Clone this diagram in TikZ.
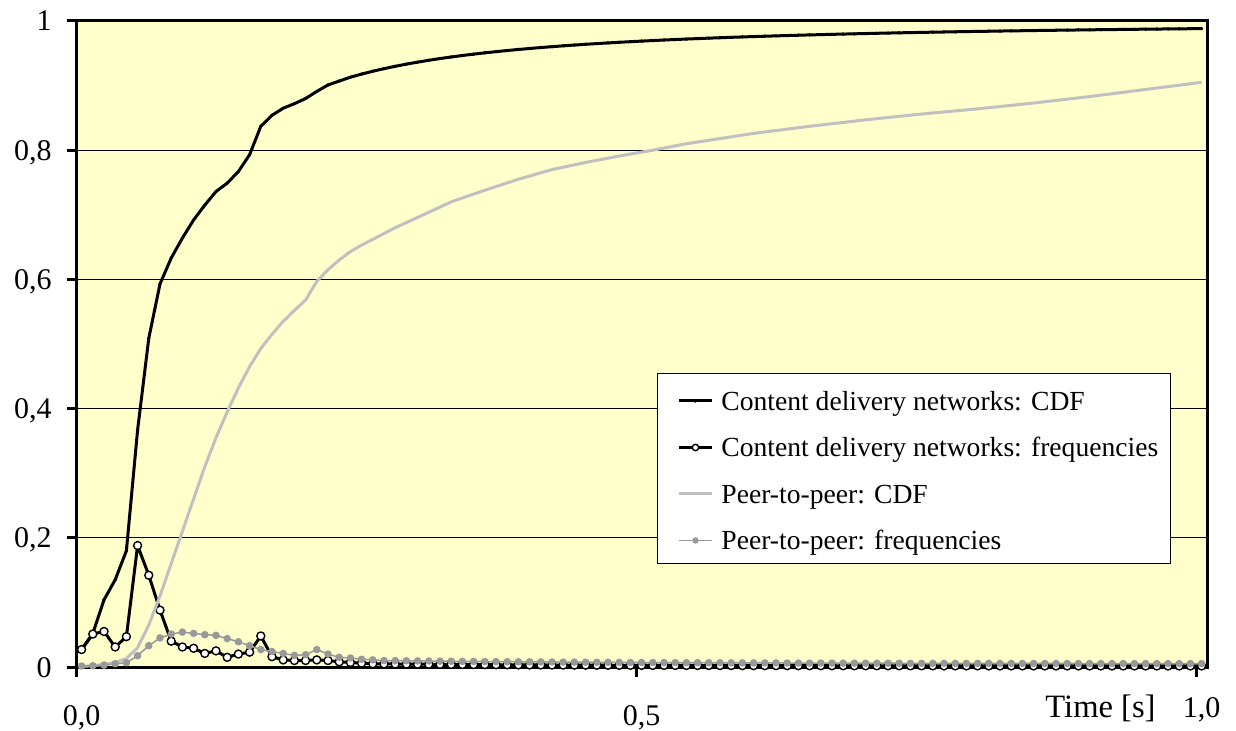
\documentclass[tikz,border=0pt]{standalone}
\usepackage{fontspec}
\setmainfont{Liberation Serif}
\definecolor{plotbg}{HTML}{FFFFCC}
\definecolor{ptpcdf}{HTML}{C0C0C0}
\definecolor{ptpfreq}{HTML}{999999}
\begin{document}
\begin{tikzpicture}[x=0.5pt,y=-0.5pt,
  ticklabel/.style={font=\fontsize{15}{18}\selectfont},
  legendtext/.style={font=\fontsize{13.8}{16}\selectfont, anchor=base west, inner sep=0pt},
  cdnline/.style={black, line width=1.5pt, line join=round},
  cdnmarks/.style={mark=*, mark size=0.7pt, mark options={fill=black, draw=black, line width=0.3pt}},
  cdnfreq/.style={black, line width=1.5pt, line join=round, mark=*, mark size=2pt,
                  mark options={fill=white, draw=black, line width=0.7pt}},
  ptpline/.style={ptpcdf, line width=1.5pt, line join=round},
  ptpfreqline/.style={ptpfreq, line width=0.75pt, line join=round, mark=*, mark size=1.5pt,
                  mark options={fill=ptpfreq, draw=ptpfreq}},
  frame/.style={black, line width=1.5pt},
  grid line/.style={black, line width=0.5pt}]
\useasboundingbox (0,0) rectangle (1236,731);

% plot area and horizontal grid
\fill[plotbg] (76,21) rectangle (1207,667);
\foreach \v in {0.2,0.4,0.6,0.8}
  \draw[grid line] (76,{667-646*\v}) -- (1207,{667-646*\v});
\draw[frame] (76,21) rectangle (1207,667);

% value axis ticks and labels
\foreach \v/\t in {0/0, 0.2/{0,2}, 0.4/{0,4}, 0.6/{0,6}, 0.8/{0,8}, 1/1} {
  \draw[frame] (67,{667-646*\v}) -- (76,{667-646*\v});
  \node[ticklabel, anchor=base east, inner sep=0pt] at (52,{677-646*\v}) {\t};
}

% time axis ticks and labels
\foreach \px in {76,636,1196}
  \draw[frame] (\px,667) -- (\px,677);
\node[ticklabel, anchor=base, inner sep=0pt] (t0) at (81.6,725) {0,0};
\node[ticklabel, anchor=base, inner sep=0pt] (t5) at (641.6,725) {0,5};
\node[ticklabel, anchor=base, inner sep=0pt] (t10) at (1201.6,717) {1,0};
\node[font=\fontsize{16.3}{19}\selectfont, anchor=base west, inner sep=0pt] (xtitle) at (1045,717) {Time [s]};

% data series: one category every 0.01 s
\begin{scope}[shift={(81.6,667)}, x=5.6pt, y=323pt]
  % content delivery networks: CDF
  \draw[cdnline, cdnmarks] plot coordinates {
    (0,0.027) (1,0.052) (2,0.104) (3,0.135) (4,0.180) (5,0.367) (6,0.509) (7,0.593)
    (8,0.633) (9,0.664) (10,0.692) (11,0.715) (12,0.736) (13,0.749) (14,0.767)
    (15,0.793) (16,0.837) (17,0.854) (18,0.865) (19,0.872) (20,0.880) (21,0.891)
    (22,0.901) (23,0.907)}
    -- plot[domain=24:100, samples=77] (\x,{1-0.087*pow(\x/24,-1.4)});
  % content delivery networks: frequencies
  \draw[cdnfreq] plot coordinates {
    (0,0.027) (1,0.051) (2,0.055) (3,0.031) (4,0.047) (5,0.188) (6,0.142) (7,0.088)
    (8,0.040) (9,0.031) (10,0.029) (11,0.021) (12,0.025) (13,0.015) (14,0.020)
    (15,0.023) (16,0.048) (17,0.016) (18,0.011) (19,0.010) (20,0.010) (21,0.011)
    (22,0.010) (23,0.008) (24,0.007) (25,0.006)}
    -- plot[domain=26:100, samples=75] (\x,{0.0015+0.0035*exp(-(\x-26)/20)});
  % peer-to-peer: CDF
  \draw[ptpline] plot coordinates {
    (0,0.001) (1,0.002) (2,0.004) (3,0.007) (4,0.013) (5,0.030) (6,0.065) (7,0.110)
    (8,0.160) (9,0.210) (10,0.260) (11,0.310) (12,0.355) (13,0.395) (14,0.432)
    (15,0.465) (16,0.493) (17,0.515) (18,0.535) (19,0.552) (20,0.568) (21,0.597)
    (22,0.615) (23,0.630) (24,0.643) (25,0.653) (26,0.662) (27,0.671) (28,0.680)
    (30,0.696) (33,0.720) (36,0.738) (39,0.755) (42,0.770) (45,0.781) (48,0.791)
    (51,0.800) (54,0.810) (57,0.818) (60,0.826) (65,0.837) (70,0.847) (75,0.856)
    (80,0.864) (85,0.873) (90,0.883) (95,0.894) (100,0.905)};
  % peer-to-peer: frequencies
  \draw[ptpfreqline] plot coordinates {
    (0,0.0015) (1,0.002) (2,0.003) (3,0.005) (4,0.0065) (5,0.0175) (6,0.033) (7,0.045)
    (8,0.051) (9,0.054) (10,0.052) (11,0.050) (12,0.049) (13,0.044) (14,0.039)
    (15,0.033) (16,0.027) (17,0.024) (18,0.021) (19,0.018) (20,0.019) (21,0.027)
    (22,0.020) (23,0.015) (24,0.014) (25,0.012) (26,0.011) (27,0.010)}
    -- plot[domain=28:100, samples=73] (\x,{0.005+0.005*exp(-(\x-27)/25)});
\end{scope}

% legend
\draw[black, line width=0.5pt, fill=white] (657,374) rectangle (1170,563);
\draw[cdnline, cdnmarks, mark indices={2}] plot coordinates {(679,401) (695.5,401) (712,401)};
\node[legendtext] (l1) at (721,410.5) {Content delivery networks: CDF};
\draw[cdnfreq, mark indices={2}, mark size=1.6pt] plot coordinates {(679,447.5) (695.5,447.5) (712,447.5)};
\node[legendtext] (l2) at (721,457) {Content delivery networks: frequencies};
\draw[ptpline] (679,494) -- (712,494);
\node[legendtext] (l3) at (721,503.5) {Peer-to-peer: CDF};
\draw[ptpfreqline, mark indices={2}, mark size=1.2pt] plot coordinates {(679,540.5) (695.5,540.5) (712,540.5)};
\node[legendtext] (l4) at (721,550) {Peer-to-peer: frequencies};
\end{tikzpicture}
\end{document}
